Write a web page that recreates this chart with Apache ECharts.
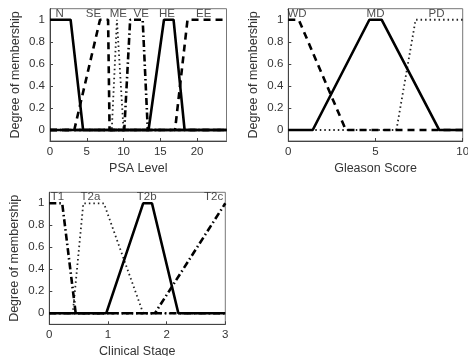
<!DOCTYPE html>
<html><head><meta charset="utf-8">
<script src="https://cdn.jsdelivr.net/npm/echarts@6/dist/echarts.min.js"></script>
<style>html,body{margin:0;padding:0;background:#fff}#c{width:468px;height:356px}</style>
</head><body><div id="c"></div>
<script>
// ---- data: membership functions [x, degree] ----
const psaN  = [[0,1],[2.8,1],[4.5,0],[24,0]];
const psaSE = [[0,0],[3.3,0],[6.8,1],[7.9,1],[8.1,0],[24,0]];
const psaME = [[0,0],[8.4,0],[9.1,1],[9.3,1],[10,0],[24,0]];
const psaVE = [[0,0],[10.1,0],[10.9,1],[12.6,1],[13.3,0],[24,0]];
const psaHE = [[0,0],[13.4,0],[15.5,1],[16.8,1],[18.3,0],[24,0]];
const psaEE = [[0,0],[17.0,0],[18.7,1],[24,1]];
const psaLabels = ['N','SE','ME','VE','HE','EE'];
const psaLabelX = [1.3,5.9,9.3,12.4,15.9,20.9];
const psaTicks = [0,5,10,15,20];

const glWD = [[0,1],[0.6,1],[3.3,0],[10,0]];
const glMD = [[0,0],[1.4,0],[4.65,1],[5.35,1],[8.65,0],[10,0]];
const glPD = [[0,0],[6.2,0],[7.3,1],[10,1]];
const glLabels = ['WD','MD','PD'];
const glLabelX = [0.5,5.0,8.5];
const glTicks = [0,5,10];

const csT1  = [[0,1],[0.22,1],[0.45,0],[3,0]];
const csT2a = [[0,0],[0.4,0],[0.58,1],[0.93,1],[1.6,0],[3,0]];
const csT2b = [[0,0],[0.97,0],[1.6,1],[1.75,1],[2.2,0],[3,0]];
const csT2c = [[0,0],[1.8,0],[3,1]];
const csLabels = ['T1','T2a','T2b','T2c'];
const csLabelX = [0.14,0.7,1.66,2.8];
const csTicks = [0,1,2,3];

const yTicks = [0,0.2,0.4,0.6,0.8,1];
const labelY = 1.055;

// ---- styles ----
const FONT = 'Liberation Sans';
const SOLID = {type:'solid', width:2.6, color:'#000'};
const DASHED = {type:[7,5], width:2.6, color:'#000'};
const DOTTED = {type:[1.5,3], width:1.8, color:'#222'};
const DASHDOT = {type:[7,3,1.5,3], width:2.6, color:'#000'};

const grids = [
  {left:50, top:8.7, width:176.5, height:132.3},
  {left:288.3, top:8.7, width:174.4, height:132.3},
  {left:49.3, top:192.3, width:176, height:132}
];
const xCfg = [
  {max:24, ticks:psaTicks, name:'PSA Level'},
  {max:10, ticks:glTicks, name:'Gleason Score'},
  {max:3, ticks:csTicks, name:'Clinical Stage'}
];

const option = {
  animation:false,
  textStyle:{fontFamily:FONT},
  grid: grids.map(g=>Object.assign({show:true, borderColor:'#777', borderWidth:1, containLabel:false, outerBoundsMode:'none'}, g)),
  xAxis: xCfg.map((c,i)=>({
    type:'value', gridIndex:i, min:0, max:c.max,
    name:c.name, nameLocation:'middle', nameGap:21,
    nameTextStyle:{fontSize:12.5, color:'#333', fontFamily:FONT},
    axisLine:{show:true, onZero:false, lineStyle:{color:'#444'}},
    axisTick:{show:true, inside:true, length:3, customValues:c.ticks, lineStyle:{color:'#444'}},
    axisLabel:{customValues:c.ticks, fontSize:11.5, color:'#333', margin:5, fontFamily:FONT, hideOverlap:false},
    splitLine:{show:false}
  })),
  yAxis: grids.map((g,i)=>({
    type:'value', gridIndex:i, min:-0.1, max:1.1,
    name:'Degree of membership', nameLocation:'middle', nameGap:28,
    nameTextStyle:{fontSize:12.5, color:'#333', fontFamily:FONT},
    axisLine:{show:true, onZero:false, lineStyle:{color:'#444'}},
    axisTick:{show:true, inside:true, length:3, customValues:yTicks, lineStyle:{color:'#444'}},
    axisLabel:{customValues:yTicks, fontSize:11.5, color:'#333', margin:5, fontFamily:FONT},
    splitLine:{show:false}
  })),
  series: []
};

function line(data, style, gi){
  option.series.push({type:'line', xAxisIndex:gi, yAxisIndex:gi, data:data, symbol:'none',
    lineStyle:style, silent:true, z:(style===SOLID?3:2)});
}
function labels(names, xs, gi){
  option.series.push({type:'scatter', xAxisIndex:gi, yAxisIndex:gi, symbolSize:0, z:5,
    data: names.map((n,k)=>({value:[xs[k], labelY], name:n})),
    label:{show:true, position:'inside', formatter:p=>p.name, fontSize:11.5, color:'#222', fontFamily:FONT}});
}

line(psaSE, DASHED, 0); line(psaME, DOTTED, 0); line(psaVE, DASHDOT, 0);
line(psaEE, DASHED, 0); line(psaN, SOLID, 0); line(psaHE, SOLID, 0);
labels(psaLabels, psaLabelX, 0);

line(glPD, DOTTED, 1); line(glWD, DASHED, 1); line(glMD, SOLID, 1);
labels(glLabels, glLabelX, 1);

line(csT2a, DOTTED, 2); line(csT1, DASHDOT, 2); line(csT2c, DASHDOT, 2); line(csT2b, SOLID, 2);
labels(csLabels, csLabelX, 2);

echarts.init(document.getElementById('c')).setOption(option);
</script></body></html>
